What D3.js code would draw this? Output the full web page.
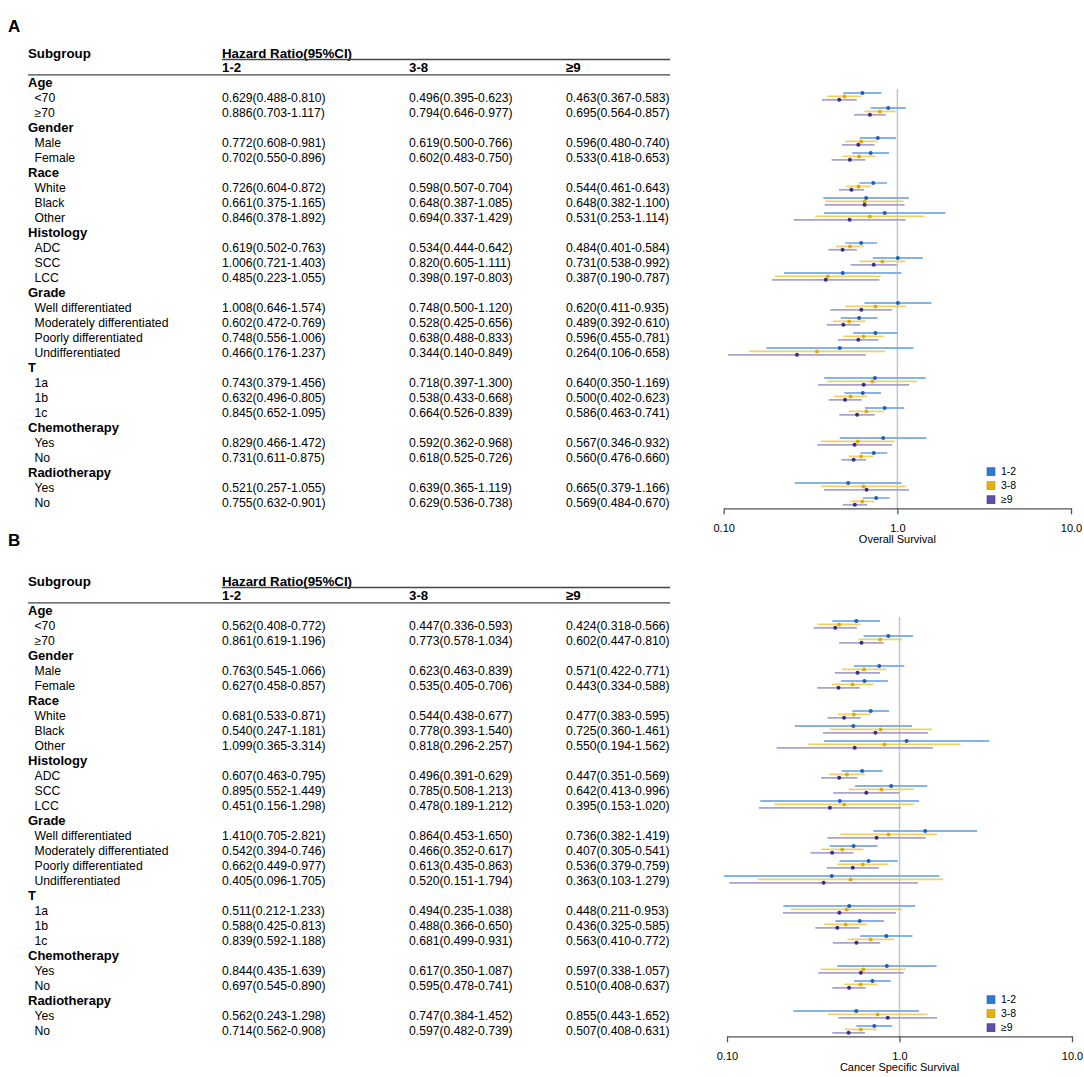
<!DOCTYPE html>
<html>
<head>
<meta charset="utf-8">
<script src="https://cdnjs.cloudflare.com/ajax/libs/d3/7.8.5/d3.min.js"></script>
<style>
  body { margin: 0; background: #fff; }
  svg { display: block; font-family: "Liberation Sans", Arial, sans-serif; }
  .hdr { font-weight: bold; font-size: 13.3px; }
  .grp { font-weight: bold; font-size: 13px; }
  .cell { font-size: 12.2px; }
  .rule { stroke: #444; stroke-width: 1.3; }
  .refline { stroke: #c4c4c4; stroke-width: 1.4; }
  .axis path, .axis line { stroke: #555; stroke-width: 1.3; }
  .axis text { font-size: 11px; fill: #000; font-family: "Liberation Sans", Arial, sans-serif; }
</style>
</head>
<body>
<svg id="chart" width="1084" height="1077"></svg>
<script>
// row labels, group headers in bold
var rowLabels = ["Age", "<70", "≥70",
                 "Gender", "Male", "Female",
                 "Race", "White", "Black", "Other",
                 "Histology", "ADC", "SCC", "LCC",
                 "Grade", "Well differentiated", "Moderately differentiated", "Poorly differentiated", "Undifferentiated",
                 "T", "1a", "1b", "1c",
                 "Chemotherapy", "Yes", "No",
                 "Radiotherapy", "Yes", "No"];
var headerRows = [0, 3, 6, 10, 14, 19, 23, 26];

var seriesNames = ["1-2", "3-8", "≥9"];
var tickValues = [0.1, 1, 10];
var tickLabels = ["0.10", "1.0", "10.0"];

// Overall survival: [HR, lower, upper] for each subgroup row
var os12 = [[0.629,0.488,0.810],[0.886,0.703,1.117],[0.772,0.608,0.981],[0.702,0.550,0.896],
            [0.726,0.604,0.872],[0.661,0.375,1.165],[0.846,0.378,1.892],
            [0.619,0.502,0.763],[1.006,0.721,1.403],[0.485,0.223,1.055],
            [1.008,0.646,1.574],[0.602,0.472,0.769],[0.748,0.556,1.006],[0.466,0.176,1.237],
            [0.743,0.379,1.456],[0.632,0.496,0.805],[0.845,0.652,1.095],
            [0.829,0.466,1.472],[0.731,0.611,0.875],[0.521,0.257,1.055],[0.755,0.632,0.901]];
var os38 = [[0.496,0.395,0.623],[0.794,0.646,0.977],[0.619,0.500,0.766],[0.602,0.483,0.750],
            [0.598,0.507,0.704],[0.648,0.387,1.085],[0.694,0.337,1.429],
            [0.534,0.444,0.642],[0.820,0.605,1.111],[0.398,0.197,0.803],
            [0.748,0.500,1.120],[0.528,0.425,0.656],[0.638,0.488,0.833],[0.344,0.140,0.849],
            [0.718,0.397,1.300],[0.538,0.433,0.668],[0.664,0.526,0.839],
            [0.592,0.362,0.968],[0.618,0.525,0.726],[0.639,0.365,1.119],[0.629,0.536,0.738]];
var os9  = [[0.463,0.367,0.583],[0.695,0.564,0.857],[0.596,0.480,0.740],[0.533,0.418,0.653],
            [0.544,0.461,0.643],[0.648,0.382,1.100],[0.531,0.253,1.114],
            [0.484,0.401,0.584],[0.731,0.538,0.992],[0.387,0.190,0.787],
            [0.620,0.411,0.935],[0.489,0.392,0.610],[0.596,0.455,0.781],[0.264,0.106,0.658],
            [0.640,0.350,1.169],[0.500,0.402,0.623],[0.586,0.463,0.741],
            [0.567,0.346,0.932],[0.560,0.476,0.660],[0.665,0.379,1.166],[0.569,0.484,0.670]];

// Cancer specific survival
var css12 = [[0.562,0.408,0.772],[0.861,0.619,1.196],[0.763,0.545,1.066],[0.627,0.458,0.857],
             [0.681,0.533,0.871],[0.540,0.247,1.181],[1.099,0.365,3.314],
             [0.607,0.463,0.795],[0.895,0.552,1.449],[0.451,0.156,1.298],
             [1.410,0.705,2.821],[0.542,0.394,0.746],[0.662,0.449,0.977],[0.405,0.096,1.705],
             [0.511,0.212,1.233],[0.588,0.425,0.813],[0.839,0.592,1.188],
             [0.844,0.435,1.639],[0.697,0.545,0.890],[0.562,0.243,1.298],[0.714,0.562,0.908]];
var css38 = [[0.447,0.336,0.593],[0.773,0.578,1.034],[0.623,0.463,0.839],[0.535,0.405,0.706],
             [0.544,0.438,0.677],[0.778,0.393,1.540],[0.818,0.296,2.257],
             [0.496,0.391,0.629],[0.785,0.508,1.213],[0.478,0.189,1.212],
             [0.864,0.453,1.650],[0.466,0.352,0.617],[0.613,0.435,0.863],[0.520,0.151,1.794],
             [0.494,0.235,1.038],[0.488,0.366,0.650],[0.681,0.499,0.931],
             [0.617,0.350,1.087],[0.595,0.478,0.741],[0.747,0.384,1.452],[0.597,0.482,0.739]];
var css9  = [[0.424,0.318,0.566],[0.602,0.447,0.810],[0.571,0.422,0.771],[0.443,0.334,0.588],
             [0.477,0.383,0.595],[0.725,0.360,1.461],[0.550,0.194,1.562],
             [0.447,0.351,0.569],[0.642,0.413,0.996],[0.395,0.153,1.020],
             [0.736,0.382,1.419],[0.407,0.305,0.541],[0.536,0.379,0.759],[0.363,0.103,1.279],
             [0.448,0.211,0.953],[0.436,0.325,0.585],[0.563,0.410,0.772],
             [0.597,0.338,1.057],[0.510,0.408,0.637],[0.855,0.443,1.652],[0.507,0.408,0.631]];

var lineColors   = ["#78ace6", "#f1cc55", "#a098ca"];
var pointColors  = ["#1a5fc0", "#e3aa00", "#3a2c8a"];
var legendColors = ["#2b7bcf", "#e5b111", "#5a4ea4"];
var seriesOffset = [-8.5, -5.1, -1.7];

var svg = d3.select("#chart");

function fmt(v) { return v[0].toFixed(3) + "(" + v[1].toFixed(3) + "-" + v[2].toFixed(3) + ")"; }

function drawPanel(top, letter, letterY, series, xRange, title) {
  var g = svg.append("g").attr("transform", "translate(0," + top + ")");
  var colX = [222, 409, 566];

  svg.append("text")
    .attr("x", 8).attr("y", letterY)
    .style("font-weight", "bold").style("font-size", "17px")
    .text(letter);

  // table header
  g.append("text").attr("class", "hdr").attr("x", 28).attr("y", 57.7).text("Subgroup");
  g.append("text").attr("class", "hdr").attr("x", colX[0]).attr("y", 57.7).text("Hazard Ratio(95%CI)");
  g.append("line").attr("class", "rule").attr("x1", colX[0]).attr("x2", 670).attr("y1", 59.5).attr("y2", 59.5);
  seriesNames.forEach(function(s, i) {
    g.append("text").attr("class", "hdr").attr("x", colX[i]).attr("y", 72).text(s);
  });
  g.append("line").attr("class", "rule").attr("x1", 28).attr("x2", 670).attr("y1", 74.8).attr("y2", 74.8);

  var y = d3.scaleLinear().domain([0, rowLabels.length - 1]).range([86.5, 86.5 + 15 * (rowLabels.length - 1)]);
  var x = d3.scaleLog().domain([0.1, 10]).range(xRange);

  // map subgroup rows to row index
  var dataRows = [];
  rowLabels.forEach(function(lab, i) {
    var isHead = headerRows.indexOf(i) >= 0;
    g.append("text")
      .attr("class", isHead ? "grp" : "cell")
      .attr("x", isHead ? 28 : 34.5)
      .attr("y", y(i))
      .text(lab);
    if (!isHead) dataRows.push(i);
  });

  series.forEach(function(vals, s) {
    g.selectAll(".val" + s)
      .data(vals)
      .enter().append("text")
      .attr("class", "cell")
      .attr("x", colX[s])
      .attr("y", function(d, k) { return y(dataRows[k]); })
      .text(fmt);
  });

  // reference line at HR = 1
  g.append("line").attr("class", "refline")
    .attr("x1", x(1)).attr("x2", x(1))
    .attr("y1", 89).attr("y2", 508);

  series.forEach(function(vals, s) {
    var sg = g.append("g");
    sg.selectAll("line")
      .data(vals)
      .enter().append("line")
      .attr("x1", function(d) { return x(d[1]); })
      .attr("x2", function(d) { return x(d[2]); })
      .attr("y1", function(d, k) { return y(dataRows[k]) + seriesOffset[s]; })
      .attr("y2", function(d, k) { return y(dataRows[k]) + seriesOffset[s]; })
      .style("stroke", lineColors[s])
      .style("stroke-width", 1.8)
      .style("opacity", 0.9);
    sg.selectAll("circle")
      .data(vals)
      .enter().append("circle")
      .attr("cx", function(d) { return x(d[0]); })
      .attr("cy", function(d, k) { return y(dataRows[k]) + seriesOffset[s]; })
      .attr("r", 2)
      .style("fill", pointColors[s]);
  });

  // axis
  g.append("g")
    .attr("class", "axis")
    .attr("transform", "translate(0,508.3)")
    .call(d3.axisBottom(x)
      .tickValues(tickValues)
      .tickFormat(function(d, i) { return tickLabels[i]; })
      .tickSizeInner(6).tickSizeOuter(0).tickPadding(9.5));

  g.append("text")
    .attr("x", (xRange[0] + xRange[1]) / 2)
    .attr("y", 543.3)
    .attr("text-anchor", "middle")
    .style("font-size", "11px")
    .text(title);

  // legend
  seriesNames.forEach(function(s, i) {
    g.append("rect")
      .attr("x", 987).attr("y", 467.7 + 14 * i)
      .attr("width", 8).attr("height", 8)
      .style("fill", legendColors[i])
      .style("stroke", d3.color(legendColors[i]).darker(0.6))
      .style("stroke-width", 0.6);
    g.append("text")
      .attr("x", 1001).attr("y", 475.4 + 14 * i)
      .style("font-size", "10.5px")
      .text(s);
  });
}

drawPanel(0, "A", 31.7, [os12, os38, os9], [723.7, 1071], "Overall Survival");
drawPanel(528, "B", 546, [css12, css38, css9], [727, 1072], "Cancer Specific Survival");
</script>
</body>
</html>
